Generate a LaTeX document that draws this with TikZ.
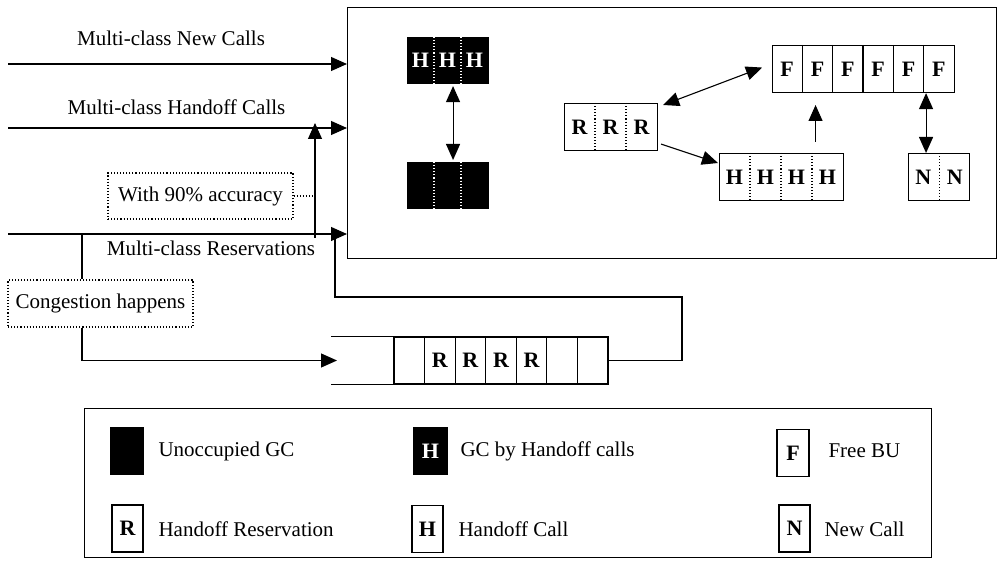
\documentclass[tikz,border=0pt]{standalone}
\usepackage{fontspec}
\setmainfont{Liberation Serif}
\usetikzlibrary{calc, arrows.meta}
\usetikzlibrary{positioning}

\begin{document}
\begin{tikzpicture}[x=0.5pt, y=-0.5pt, line width=0.55pt,
        >={Triangle[length=8pt,width=7pt]},
        lbl/.style={font=\fontsize{10.5}{12}\selectfont, inner sep=0pt},
        note/.style={draw, densely dotted, font=\fontsize{10.5}{12}\selectfont,
            minimum width=92.5pt, minimum height=23pt, inner sep=0pt},
        cellbox/.style={draw, inner sep=0pt, minimum height=23.5pt, anchor=north west},
        blkbox/.style={cellbox, fill=black, minimum height=23pt},
        letter/.style={font=\fontsize{11}{12}\selectfont\bfseries, inner sep=0pt},
        qcell/.style={draw, inner sep=0pt, minimum width=15.28pt, minimum height=23.5pt,
            font=\fontsize{11}{12}\selectfont\bfseries},
        keybox/.style={draw, inner sep=0pt, minimum width=15.5pt, minimum height=23.5pt,
            font=\fontsize{11}{12}\selectfont\bfseries}]
    \useasboundingbox (0,0) rectangle (997,561);

    % cell area
    \node[draw, anchor=north west, minimum width=324.5pt, minimum height=125.5pt] (cellarea) at (347,7) {};

    % incoming traffic
    \coordinate (newin) at (8,64);
    \coordinate (hoin) at (8,128);
    \coordinate (resin) at (8,234);
    \draw[->] (newin) -- (newin -| cellarea.west);
    \draw[->] (hoin) -- (hoin -| cellarea.west);
    \draw[->] (resin) -- (resin -| cellarea.west);
    \node[lbl] (newlbl) at (171,38) {Multi-class New Calls};
    \node[lbl] (holbl) at (176.5,107) {Multi-class Handoff Calls};
    \node[lbl] (reslbl) at (211,248) {Multi-class Reservations};

    % reservations turned into handoff calls
    \node[note] (acc) at (200.5,196) {With 90\% accuracy};
    \coordinate (upfoot) at (315,238);
    \coordinate (uptip) at (315,123);
    \draw[->] (upfoot) -- (uptip);
    \draw[densely dotted] (acc.east) -- (acc.east -| upfoot);

    % congestion queue
    \node[note, minimum height=23.5pt] (cong) at (100.5,303.5) {Congestion happens};
    \coordinate (cgtop) at (82,234);
    \coordinate (qin) at (337,360.5);
    \draw (cgtop) -- (cgtop |- cong.north);
    \draw[->] (cgtop |- cong.south) |- (qin);
    \foreach \i/\t in {0/,1/R,2/R,3/R,4/R,5/,6/}
        \node[qcell] (q\i) at (409.3+\i*30.57,360.5) {\t};
    \draw (q0.north west) -- ++(-62,0);
    \draw (q0.south west) -- ++(-62,0);
    \coordinate (fbturn) at (682,297);
    \coordinate (fbend) at (335,234);
    \draw (q6.east) -| (fbturn) -| (fbend);

    % guard channels
    \node[blkbox, minimum width=40.5pt] (gchand) at (407,37) {};
    \node[blkbox, minimum width=40.5pt] (gcfree) at (407,162) {};
    \foreach \i in {1,2} {
        \draw[white, densely dotted] ($(gchand.north west)+(\i*27,0)$) -- ($(gchand.south west)+(\i*27,0)$);
        \draw[white, densely dotted] ($(gcfree.north west)+(\i*27,0)$) -- ($(gcfree.south west)+(\i*27,0)$);
    }
    \foreach \i in {0,1,2}
        \node[letter, text=white] at ($(gchand.west)+(13.5+\i*27,0)$) {H};
    \draw[<->, shorten <=1pt, shorten >=1pt] ([xshift=2.5]gchand.south) -- ([xshift=2.5]gcfree.north);

    % bandwidth units
    \node[cellbox, minimum width=91pt] (fbu) at (772,45) {};
    \foreach \i in {1,...,5}
        \draw ($(fbu.north west)+(\i*30.33,0)$) -- ($(fbu.south west)+(\i*30.33,0)$);
    \foreach \i in {0,...,5}
        \node[letter] at ($(fbu.west)+(15.17+\i*30.33,0)$) {F};

    \node[cellbox, minimum width=46.5pt] (rres) at (564,103) {};
    \foreach \i in {1,2}
        \draw[densely dotted] ($(rres.north west)+(\i*31,0)$) -- ($(rres.south west)+(\i*31,0)$);
    \foreach \i in {0,1,2}
        \node[letter] at ($(rres.west)+(15.5+\i*31,0)$) {R};

    \node[cellbox, minimum width=62pt] (hhand) at (719,153) {};
    \foreach \i in {1,2,3}
        \draw[densely dotted] ($(hhand.north west)+(\i*31,0)$) -- ($(hhand.south west)+(\i*31,0)$);
    \foreach \i in {0,...,3}
        \node[letter] at ($(hhand.west)+(15.5+\i*31,0)$) {H};

    \node[cellbox, minimum width=30.5pt] (nnew) at (908,153) {};
    \draw[densely dotted] (nnew.north) -- (nnew.south);
    \node[letter] at ($(nnew.west)+(15.25,0)$) {N};
    \node[letter] at ($(nnew.east)+(-15.25,0)$) {N};

    \draw[<->] ([shift={(5,2)}]rres.north east) -- ([shift={(-10,-1.5)}]fbu.west);
    \draw[->] ([shift={(3,-7)}]rres.south east) -- ([shift={(-1,10)}]hhand.north west);
    \draw[->] ([shift={(34,-11)}]hhand.north) -- ++(0,-37);
    \coordinate (fnx) at ([xshift=-6.5]nnew.north);
    \draw[<->] (fnx |- fbu.south) -- (fnx);

    % legend
    \node[draw, anchor=north west, minimum width=423.5pt, minimum height=74.5pt] (legend) at (84,408) {};
    \node[keybox, fill=black, minimum width=16pt] (k1) at (127,451) {};
    \node[lbl, anchor=west] (t1) at (158,451) {Unoccupied GC};
    \node[keybox, fill=black, text=white, minimum width=16.5pt] (k2) at (430.5,451) {H};
    \node[lbl, anchor=west] (t2) at (460,451) {GC by Handoff calls};
    \node[keybox, minimum width=16pt] (k3) at (793,453) {F};
    \node[lbl, anchor=west] (t3) at (828,451) {Free BU};
    \node[keybox] (k4) at (127.5,528.5) {R};
    \node[lbl, anchor=west] (t4) at (158,529) {Handoff Reservation};
    \node[keybox] (k5) at (427.5,529) {H};
    \node[lbl, anchor=west] (t5) at (458,529) {Handoff Call};
    \node[keybox] (k6) at (794.5,528.5) {N};
    \node[lbl, anchor=west] (t6) at (824,529) {New Call};
\end{tikzpicture}
\end{document}
